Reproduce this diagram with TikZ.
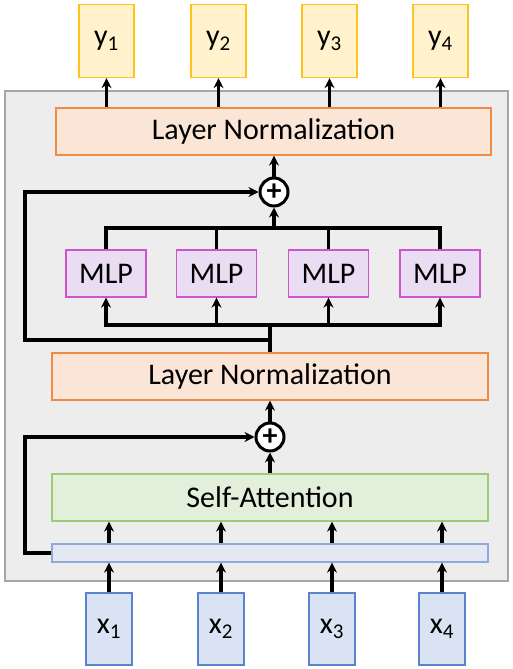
\documentclass[tikz,border=0pt]{standalone}
\usepackage{fontspec}
\setmainfont{Carlito}
\usepackage{xcolor}
\usetikzlibrary{arrows.meta, positioning, calc}

\definecolor{bgfill}{HTML}{EDEDED}
\definecolor{bgline}{HTML}{A6A6A6}
\definecolor{lnfill}{HTML}{FBE5D6}
\definecolor{lnline}{HTML}{F08A45}
\definecolor{mlpfill}{HTML}{EADCF2}
\definecolor{mlpline}{HTML}{CC55CC}
\definecolor{safill}{HTML}{E2EFDA}
\definecolor{saline}{HTML}{9CCB7A}
\definecolor{embfill}{HTML}{E3E8F3}
\definecolor{embline}{HTML}{8EAADC}
\definecolor{xfill}{HTML}{DAE3F3}
\definecolor{xline}{HTML}{5B82CC}
\definecolor{yfill}{HTML}{FFF2CC}
\definecolor{yline}{HTML}{FFC21A}

\tikzset{
  blk/.style 2 args={
    rectangle, draw=#2, fill=#1, line width=1.3pt,
    inner sep=0pt, font=\fontsize{30}{34}\selectfont
  },
  wide/.style={minimum width=436pt, minimum height=47pt},
  tok/.style={minimum width=55pt, minimum height=73pt},
  mlp/.style={blk={mlpfill}{mlpline}, minimum width=80pt, minimum height=47pt},
  sum/.style={circle, draw=black, fill=white, line width=3pt,
    minimum size=28pt, inner sep=0pt, font=\fontsize{30}{30}\selectfont\bfseries},
  line/.style={line width=3.2pt},
  arr/.style={line width=3.2pt, -{Stealth[length=10pt, width=10pt]}}
}

\begin{document}
\begin{tikzpicture}[x=1pt, y=-1pt]
  \useasboundingbox (0,0) rectangle (512,669);

  % block background
  \node[rectangle, draw=bgline, fill=bgfill, line width=1.3pt,
    minimum width=503pt, minimum height=490pt] (block) at (256.5,336) {};

  \node[blk={lnfill}{lnline}, wide, minimum width=435pt] (lntop) at (273.5,131.5) {Layer Normalization};
  \node[blk={lnfill}{lnline}, wide] (lnbot) at (270,376.5) {Layer Normalization};
  \node[blk={safill}{saline}, wide] (att) at (270,497.5) {Self-Attention};
  \node[blk={embfill}{embline}, wide, minimum height=18pt] (emb) at (270,553) {};

  \node[sum] (addtop) at (274,192) {+};
  \node[sum] (addbot) at (270,437) {+};

  \node[mlp] (mlp1) at (106,273.5) {MLP};
  \node[mlp] (mlp2) at (216.5,273.5) {MLP};
  \node[mlp] (mlp3) at (328.5,273.5) {MLP};
  \node[mlp] (mlp4) at (440,273.5) {MLP};

  \node[blk={yfill}{yline}, tok] (y1) at (106.5,41) {y\textsubscript{1}};
  \node[blk={yfill}{yline}, tok] (y2) at (218.5,41) {y\textsubscript{2}};
  \node[blk={yfill}{yline}, tok] (y3) at (329.5,41) {y\textsubscript{3}};
  \node[blk={yfill}{yline}, tok] (y4) at (440.5,41) {y\textsubscript{4}};

  \node[blk={xfill}{xline}, tok, minimum width=46pt, minimum height=72pt] (x1) at (109,629) {x\textsubscript{1}};
  \node[blk={xfill}{xline}, tok, minimum width=46pt, minimum height=72pt] (x2) at (221,629) {x\textsubscript{2}};
  \node[blk={xfill}{xline}, tok, minimum width=46pt, minimum height=72pt] (x3) at (332,629) {x\textsubscript{3}};
  \node[blk={xfill}{xline}, tok, minimum width=46pt, minimum height=72pt] (x4) at (442,629) {x\textsubscript{4}};

  \coordinate (skipA) at (25,553);
  \coordinate (tap)   at (270,340);
  \coordinate (skipB) at (25,340);
  \coordinate (fork)  at (270,325);
  \coordinate (merge) at (274,228);

  % inputs into the embedding bar and attention
  \foreach \i in {1,...,4} {
    \draw[arr] (x\i.north) -- (x\i |- emb.south);
    \draw[arr] (x\i |- emb.north) -- (x\i |- att.south);
  }

  \draw[arr] (att.north -| addbot) -- (addbot.south);
  \draw[arr] (emb.west) -- (skipA) |- (addbot.west);
  \draw[arr] (addbot.north) -- (addbot |- lnbot.south);

  % MLP branch
  \draw[line] (lnbot.north) -- (fork);
  \foreach \i in {1,...,4} {
    \draw[arr] (fork) -| (mlp\i.south);
    \draw[line] (mlp\i.north) |- (merge);
  }
  \draw[arr] (merge) -- (addtop.south);
  \draw[arr] (tap) -- (skipB) |- (addtop.west);
  \draw[arr] (addtop.north) -- (addtop |- lntop.south);

  % outputs
  \foreach \i in {1,...,4}
    \draw[arr] (y\i |- lntop.north) -- (y\i.south);

\end{tikzpicture}
\end{document}
